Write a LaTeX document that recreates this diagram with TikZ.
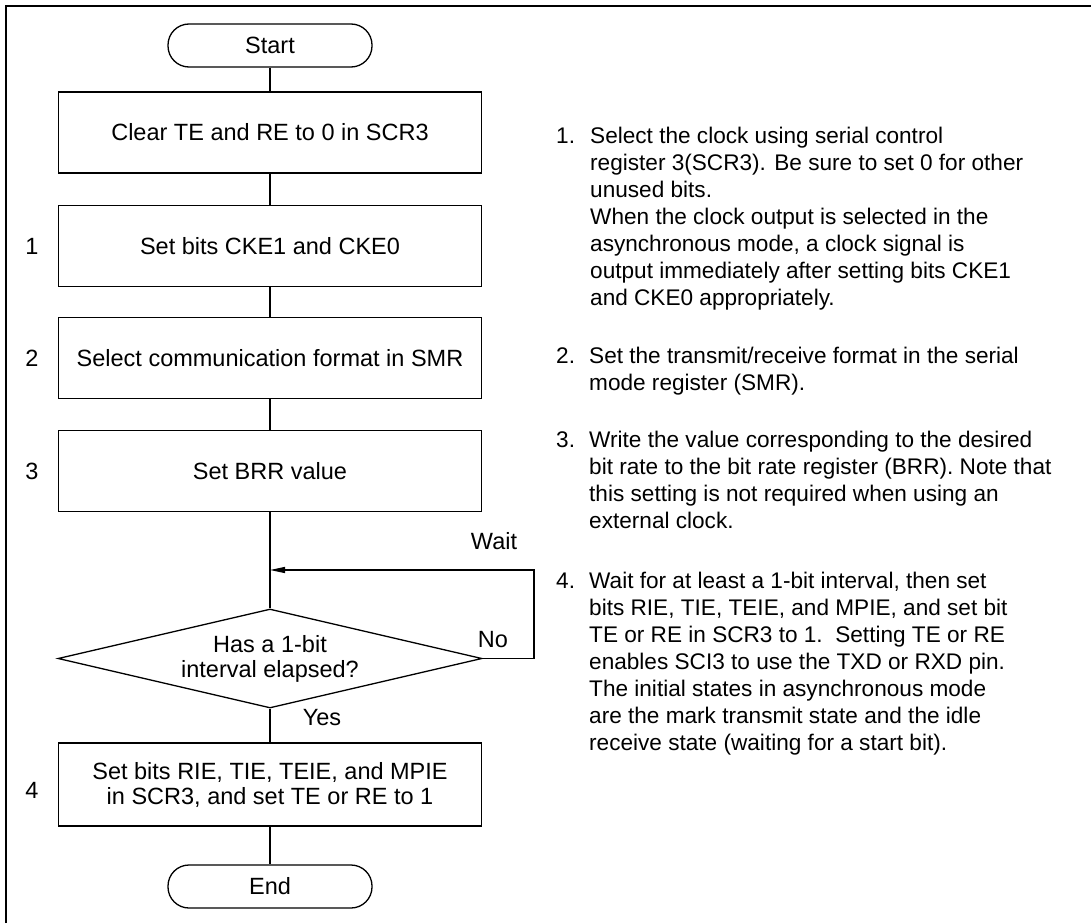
\documentclass[tikz,border=0pt]{standalone}
\usepackage{fontspec}
\setmainfont{Liberation Sans}
\usetikzlibrary{shapes.geometric,arrows.meta}
\newcommand\mynlines[1]{\begin{tabular}[t]{@{}l@{}}#1\end{tabular}}
\begin{document}
\begin{tikzpicture}[x=1pt,y=-1pt,
  every node/.style={font=\fontsize{23.5pt}{25pt}\selectfont, inner sep=0pt},
  conn/.style={line width=1.3pt},
  proc/.style={draw, line width=1.3pt, minimum width=423pt, minimum height=81pt, align=center},
  term/.style={draw, line width=1.3pt, rounded corners=21pt, minimum width=204pt, minimum height=43pt},
  decide/.style={draw, diamond, line width=1.3pt, aspect=4.28, minimum width=424pt, minimum height=99pt, align=center},
  notenum/.style={anchor=base west, font=\fontsize{22.6pt}{27pt}\selectfont},
  notetext/.style={anchor=base west, font=\fontsize{22.6pt}{27pt}\selectfont}
]
\useasboundingbox (0,0) rectangle (1091,923);
\draw[line width=1.8pt] (6,923) -- (6,6) -- (1091,6);

% flowchart
\node[term] (start) at (270,45.5) {Start};
\node[proc] (b0) at (270,132.5) {Clear TE and RE to 0 in SCR3};
\node[proc] (b1) at (270,246) {Set bits CKE1 and CKE0};
\node[proc] (b2) at (270,358) {Select communication format in SMR};
\node[proc] (b3) at (270,471) {Set BRR value};
\node[decide] (dec) at (270,658.5) {Has a 1-bit\\interval elapsed?};
\node[proc, minimum height=83pt] (b4) at (270,784.5) {Set bits RIE, TIE, TEIE, and MPIE\\in SCR3, and set TE or RE to 1};
\node[term] (end) at (270,886.5) {End};

% step numbers
\node (n1) at (32,246) {1};
\node (n2) at (32,358) {2};
\node (n3) at (32,471) {3};
\node (n4) at (32,790) {4};

% connectors
\draw[conn] (start) -- (b0);
\draw[conn] (b0) -- (b1);
\draw[conn] (b1) -- (b2);
\draw[conn] (b2) -- (b3);
\draw[conn] (b3) -- (dec);
\draw[conn] (dec) -- (b4);
\draw[conn] (b4) -- (end);

\coordinate (wj) at (270,570);
\coordinate (lc1) at (534,658.5);
\coordinate (lc2) at (534,570);
\draw[conn, -{Triangle[length=15pt,width=6pt]}] (dec.east) -- (lc1) -- (lc2) -- (wj);

\node (wait) at (494,541) {Wait};
\node (no) at (493,640) {No};
\node (yes) at (322,718) {Yes};

% notes
\node[notenum] (m1) at (556,143) {1.};
\node[notetext] (t1) at (590,143) {\mynlines{Select the clock using serial control\\
register 3(SCR3). Be sure to set 0 for other\\
unused bits.\\
When the clock output is selected in the\\
asynchronous mode, a clock signal is\\
output immediately after setting bits CKE1\\
and CKE0 appropriately.}};

\node[notenum] (m2) at (556,363) {2.};
\node[notetext] (t2) at (589,363) {\mynlines{Set the transmit/receive format in the serial\\
mode register (SMR).}};

\node[notenum] (m3) at (556,447) {3.};
\node[notetext] (t3) at (589,447) {\mynlines{Write the value corresponding to the desired\\
bit rate to the bit rate register (BRR). Note that\\
this setting is not required when using an\\
external clock.}};

\node[notenum] (m4) at (556,588) {4.};
\node[notetext] (t4) at (589,588) {\mynlines{Wait for at least a 1-bit interval, then set\\
bits RIE, TIE, TEIE, and MPIE, and set bit\\
TE or RE in SCR3 to 1.\ \ Setting TE or RE\\
enables SCI3 to use the TXD or RXD pin.\\
The initial states in asynchronous mode\\
are the mark transmit state and the idle\\
receive state (waiting for a start bit).}};
\end{tikzpicture}
\end{document}
